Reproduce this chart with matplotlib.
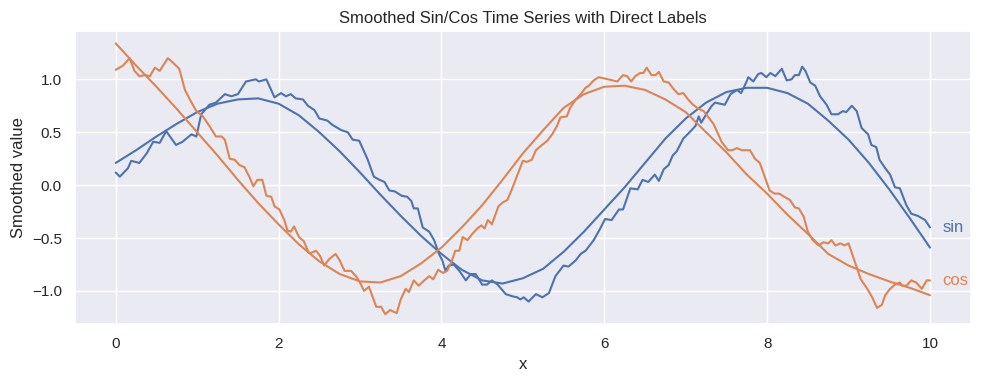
import matplotlib
matplotlib.use("Agg")
import matplotlib.pyplot as plt
import seaborn as sns

sns.set_theme(style="darkgrid")
plt.rcParams["font.family"] = ["Liberation Sans", "DejaVu Sans"]

# Noisy sin series
sin_x = [0.00, 0.05, 0.15, 0.19, 0.29, 0.38, 0.46, 0.54, 0.62, 0.74, 0.82, 0.93, 0.99, 1.05, 1.15, 1.23,
         1.34, 1.42, 1.50, 1.60, 1.72, 1.76, 1.85, 1.95, 2.03, 2.09, 2.15, 2.21, 2.30, 2.36, 2.44, 2.50,
         2.60, 2.66, 2.77, 2.85, 2.91, 2.99, 3.09, 3.17, 3.24, 3.30, 3.36, 3.43, 3.51, 3.58, 3.63, 3.66,
         3.71, 3.77, 3.85, 3.91, 3.97, 4.01, 4.05, 4.09, 4.15, 4.22, 4.30, 4.36, 4.42, 4.50, 4.56, 4.62,
         4.69, 4.79, 4.87, 4.93, 4.97, 5.01, 5.07, 5.16, 5.24, 5.32, 5.40, 5.50, 5.56, 5.65, 5.71, 5.77,
         5.87, 5.95, 6.01, 6.09, 6.18, 6.23, 6.32, 6.41, 6.47, 6.54, 6.62, 6.67, 6.73, 6.79, 6.84, 6.89,
         6.97, 7.06, 7.12, 7.16, 7.19, 7.26, 7.32, 7.36, 7.42, 7.48, 7.55, 7.63, 7.68, 7.73, 7.77, 7.83,
         7.89, 7.93, 7.99, 8.04, 8.10, 8.18, 8.24, 8.30, 8.34, 8.39, 8.43, 8.47, 8.53, 8.59, 8.65, 8.73,
         8.79, 8.87, 8.93, 8.97, 9.04, 9.10, 9.16, 9.24, 9.28, 9.34, 9.38, 9.45, 9.51, 9.57, 9.63, 9.67,
         9.71, 9.77, 9.85, 9.94, 10.00]
sin_y = [0.12, 0.08, 0.16, 0.23, 0.21, 0.30, 0.41, 0.40, 0.51, 0.38, 0.41, 0.48, 0.46, 0.67, 0.76, 0.78,
         0.86, 0.84, 0.86, 0.98, 1.00, 0.98, 1.00, 0.83, 0.87, 0.84, 0.86, 0.82, 0.81, 0.75, 0.71, 0.63,
         0.61, 0.57, 0.52, 0.50, 0.43, 0.42, 0.25, 0.08, 0.05, 0.03, -0.05, -0.06, -0.10, -0.11, -0.15, -0.22,
         -0.22, -0.40, -0.44, -0.52, -0.65, -0.71, -0.81, -0.76, -0.75, -0.81, -0.90, -0.84, -0.84, -0.94, -0.94, -0.90,
         -0.94, -1.03, -1.05, -1.06, -1.08, -1.06, -1.10, -1.03, -1.06, -1.02, -0.86, -0.76, -0.77, -0.71, -0.65, -0.62,
         -0.52, -0.41, -0.32, -0.33, -0.23, -0.23, -0.03, -0.04, 0.05, 0.03, 0.10, 0.04, 0.15, 0.19, 0.28, 0.32,
         0.44, 0.51, 0.56, 0.65, 0.59, 0.68, 0.75, 0.78, 0.77, 0.76, 0.86, 0.90, 0.87, 0.95, 1.02, 0.98,
         1.05, 1.06, 1.02, 1.06, 1.03, 1.10, 0.99, 1.00, 1.04, 1.04, 1.12, 1.08, 0.97, 0.94, 0.84, 0.76,
         0.67, 0.67, 0.70, 0.69, 0.75, 0.70, 0.54, 0.48, 0.38, 0.36, 0.24, 0.16, 0.10, -0.02, -0.03, -0.11,
         -0.19, -0.27, -0.29, -0.33, -0.40]

# Noisy cos series
cos_x = [0.00, 0.09, 0.17, 0.23, 0.29, 0.36, 0.42, 0.48, 0.54, 0.64, 0.70, 0.78, 0.85, 0.91, 0.99, 1.07,
         1.15, 1.23, 1.30, 1.34, 1.40, 1.46, 1.52, 1.58, 1.64, 1.69, 1.74, 1.80, 1.85, 1.91, 1.95, 2.01,
         2.07, 2.11, 2.15, 2.19, 2.25, 2.31, 2.37, 2.40, 2.46, 2.51, 2.56, 2.62, 2.70, 2.75, 2.81, 2.89,
         2.95, 3.00, 3.05, 3.11, 3.20, 3.26, 3.31, 3.37, 3.45, 3.50, 3.56, 3.60, 3.66, 3.72, 3.79, 3.85,
         3.90, 3.96, 4.02, 4.07, 4.13, 4.17, 4.22, 4.26, 4.32, 4.38, 4.44, 4.49, 4.53, 4.57, 4.62, 4.70,
         4.76, 4.81, 4.87, 4.93, 5.00, 5.05, 5.11, 5.16, 5.22, 5.30, 5.36, 5.42, 5.46, 5.54, 5.58, 5.65,
         5.71, 5.77, 5.81, 5.87, 5.93, 6.05, 6.16, 6.23, 6.28, 6.33, 6.38, 6.44, 6.48, 6.52, 6.58, 6.63,
         6.67, 6.73, 6.79, 6.85, 6.91, 6.97, 7.03, 7.09, 7.16, 7.22, 7.28, 7.34, 7.40, 7.44, 7.52, 7.57,
         7.63, 7.69, 7.79, 7.85, 7.91, 7.97, 8.03, 8.09, 8.15, 8.21, 8.28, 8.34, 8.39, 8.45, 8.50, 8.56,
         8.63, 8.69, 8.75, 8.79, 8.84, 8.90, 8.95, 9.00, 9.07, 9.15, 9.23, 9.29, 9.35, 9.41, 9.45, 9.51,
         9.57, 9.63, 9.66, 9.71, 9.77, 9.83, 9.90, 9.96, 10.00]
cos_y = [1.09, 1.13, 1.20, 1.08, 1.03, 1.04, 1.03, 1.11, 1.08, 1.20, 1.16, 1.10, 0.90, 0.81, 0.70, 0.65,
         0.56, 0.46, 0.46, 0.43, 0.25, 0.24, 0.19, 0.17, 0.08, -0.01, 0.05, 0.05, -0.10, -0.11, -0.20, -0.23,
         -0.33, -0.43, -0.44, -0.39, -0.49, -0.53, -0.64, -0.64, -0.62, -0.67, -0.76, -0.70, -0.65, -0.71, -0.81, -0.81,
         -0.86, -0.92, -1.00, -0.96, -1.15, -1.15, -1.22, -1.18, -1.21, -1.08, -0.98, -1.01, -0.90, -0.95, -0.90, -0.86,
         -0.89, -0.80, -0.83, -0.81, -0.71, -0.62, -0.62, -0.49, -0.52, -0.46, -0.41, -0.38, -0.41, -0.33, -0.37, -0.20,
         -0.16, -0.14, -0.03, 0.09, 0.23, 0.22, 0.24, 0.33, 0.37, 0.42, 0.48, 0.56, 0.64, 0.65, 0.73, 0.81,
         0.86, 0.92, 0.94, 0.99, 1.02, 1.00, 0.98, 1.04, 1.03, 0.98, 1.03, 1.06, 1.06, 1.11, 1.04, 1.04,
         1.07, 0.98, 0.97, 0.91, 0.86, 0.87, 0.81, 0.76, 0.72, 0.70, 0.64, 0.58, 0.48, 0.41, 0.33, 0.33,
         0.35, 0.33, 0.33, 0.25, 0.21, 0.08, -0.05, -0.08, -0.08, -0.11, -0.14, -0.21, -0.22, -0.30, -0.44, -0.52,
         -0.57, -0.54, -0.55, -0.52, -0.57, -0.55, -0.57, -0.55, -0.71, -0.89, -0.98, -1.06, -1.16, -1.13, -1.04, -0.98,
         -0.94, -0.92, -0.95, -0.95, -0.90, -0.92, -0.98, -0.90, -0.90]

# Smoothed curves
smooth_x = [0.00, 0.25, 0.50, 0.75, 1.00, 1.25, 1.50, 1.75, 2.00, 2.25, 2.50, 2.75, 3.00, 3.25,
            3.50, 3.75, 4.00, 4.25, 4.50, 4.75, 5.00, 5.25, 5.50, 5.75, 6.00, 6.25, 6.50, 6.75,
            7.00, 7.25, 7.50, 7.75, 8.00, 8.25, 8.50, 8.75, 9.00, 9.25, 9.50, 9.75, 10.00]
sin_smooth = [0.21, 0.33, 0.46, 0.58, 0.69, 0.77, 0.81, 0.82, 0.77, 0.66, 0.50, 0.32, 0.12, -0.09,
              -0.29, -0.48, -0.65, -0.80, -0.90, -0.93, -0.88, -0.79, -0.63, -0.44, -0.23, -0.02, 0.21, 0.44,
              0.63, 0.78, 0.88, 0.92, 0.92, 0.87, 0.77, 0.61, 0.43, 0.21, -0.04, -0.31, -0.59]
cos_smooth = [1.34, 1.13, 0.93, 0.72, 0.50, 0.28, 0.05, -0.17, -0.37, -0.56, -0.72, -0.84, -0.91, -0.92,
              -0.86, -0.74, -0.59, -0.40, -0.19, 0.05, 0.30, 0.52, 0.73, 0.86, 0.93, 0.94, 0.90, 0.81,
              0.69, 0.50, 0.31, 0.10, -0.08, -0.28, -0.46, -0.65, -0.76, -0.84, -0.91, -0.97, -1.04]

labels = ["sin", "cos"]
colors = sns.color_palette("deep")

fig, ax = plt.subplots(figsize=(9.82, 3.84), dpi=100)
fig.subplots_adjust(left=0.0764, right=0.9885, top=0.9193, bottom=0.1555)
ax.plot(sin_x, sin_y, color=colors[0], lw=1.5)
ax.plot(smooth_x, sin_smooth, color=colors[0], lw=1.5)
ax.plot(cos_x, cos_y, color=colors[1], lw=1.5)
ax.plot(smooth_x, cos_smooth, color=colors[1], lw=1.5)

ax.text(sin_x[-1] + 0.15, sin_y[-1], labels[0], color=colors[0], fontsize=12, va="center", ha="left")
ax.text(cos_x[-1] + 0.15, cos_y[-1], labels[1], color=colors[1], fontsize=12, va="center", ha="left")

ax.set_xlim(-0.5, 10.5)
ax.set_ylim(-1.315, 1.457)
ax.set_yticks([-1.0, -0.5, 0.0, 0.5, 1.0])
ax.set_title("Smoothed Sin/Cos Time Series with Direct Labels")
ax.set_xlabel("x")
ax.set_ylabel("Smoothed value")

fig.savefig("out.png", dpi=100)
